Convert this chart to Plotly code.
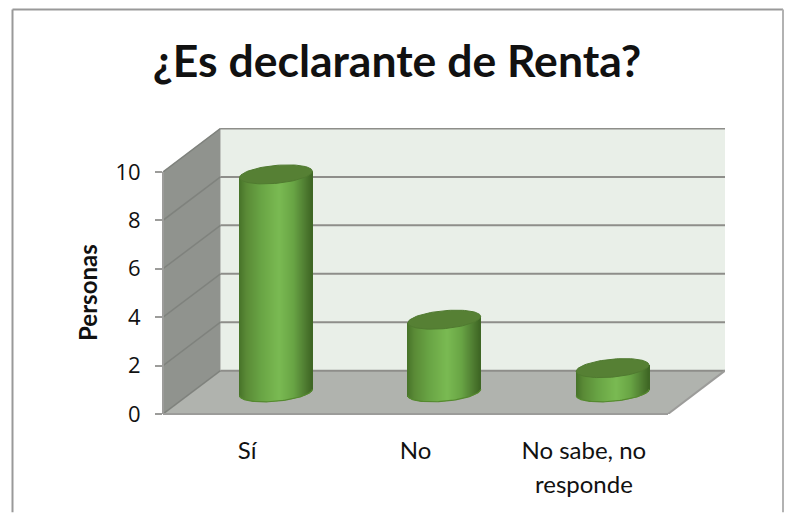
import numpy as np
import plotly.graph_objects as go

# data
categories = ["Sí", "No", "No sabe, no"]
categories_second_line = ["", "", "responde"]
values = [9, 3, 1]
y_ticks = [0, 2, 4, 6, 8, 10]

# pixel frame of the plot area, from the reference
W, H = 790, 513
PX_LEFT, PX_RIGHT, PX_TOP, PX_BOTTOM = 163, 725, 127.5, 414.5
PX_PER_CAT = 505 / 3
PX_PER_UNIT = 24.3

# depth of the fake 3d box, in axis units
DEPTH_X = 57.5 / PX_PER_CAT
DEPTH_Y = 43.5 / PX_PER_UNIT
X_MIN = -0.5
X_MAX = X_MIN + (PX_RIGHT - PX_LEFT) / PX_PER_CAT
Y_MAX = (PX_BOTTOM - PX_TOP) / PX_PER_UNIT
X_FRONT_END = 2.5

# cylinder shape
CYL_A = 36.4 / PX_PER_CAT
CYL_RY = 9 / PX_PER_UNIT
CYL_TILT = 3.2 / PX_PER_UNIT
STRIP = 1 / PX_PER_CAT

stops = [0.0, 0.1, 0.3, 0.55, 0.75, 0.9, 1.0]
stop_rgb = np.array([[70, 114, 40], [90, 138, 54], [104, 164, 68], [122, 186, 82],
                     [104, 164, 68], [80, 126, 50], [62, 102, 36]])


def strip_color(f):
    r, g, b = [np.interp(f, stops, stop_rgb[:, i]) for i in range(3)]
    return f"rgb({r:.0f},{g:.0f},{b:.0f})"


def wall(xs, ys, color):
    path = "M " + " L ".join(f"{x},{y}" for x, y in zip(xs, ys)) + " Z"
    return dict(type="path", path=path, xref="x", yref="y", fillcolor=color,
                line_width=0, layer="below")


def seg(x0, y0, x1, y1, color, width):
    return dict(type="line", x0=x0, y0=y0, x1=x1, y1=y1, xref="x", yref="y",
                line=dict(color=color, width=width), layer="below")


def paper_x(px):
    return (px - PX_LEFT) / (PX_RIGHT - PX_LEFT)


def paper_y(px):
    return (PX_BOTTOM - px) / (PX_BOTTOM - PX_TOP)


shapes = [
    wall([X_MIN + DEPTH_X, X_MAX, X_MAX, X_MIN + DEPTH_X], [DEPTH_Y, DEPTH_Y, Y_MAX, Y_MAX], "#e9efe8"),
    wall([X_MIN, X_MIN + DEPTH_X, X_MIN + DEPTH_X, X_MIN], [0, DEPTH_Y, Y_MAX, 10], "#90938e"),
    wall([X_MIN, X_FRONT_END, X_MAX, X_MIN + DEPTH_X], [0, 0, DEPTH_Y, DEPTH_Y], "#b0b3ae"),
]
for t in y_ticks:
    shapes.append(seg(X_MIN + DEPTH_X, t + DEPTH_Y, X_MAX, t + DEPTH_Y, "#8e8e8a", 2))
    shapes.append(seg(X_MIN, t, X_MIN + DEPTH_X, t + DEPTH_Y, "#7f827d", 1.5))
shapes.append(seg(X_FRONT_END, 0, X_MAX, DEPTH_Y, "#9c9c9a", 2))
# front edges and outer chart border sit on the plot edge, so paper refs (not clipped)
edge = dict(color="#9c9c9a", width=2)
shapes += [
    dict(type="line", xref="paper", yref="paper", x0=0, x1=paper_x(668), y0=0, y1=0, line=edge),
    dict(type="line", xref="paper", yref="paper", x0=0, x1=0, y0=0, y1=paper_y(171.5), line=edge),
    dict(type="line", xref="paper", yref="paper", x0=paper_x(12.5), x1=paper_x(12.5),
         y0=paper_y(513), y1=paper_y(8.5), line=dict(color="#999999", width=2)),
    dict(type="line", xref="paper", yref="paper", x0=paper_x(12.5), x1=paper_x(783),
         y0=paper_y(8.5), y1=paper_y(8.5), line=dict(color="#999999", width=2)),
    dict(type="line", xref="paper", yref="paper", x0=paper_x(783), x1=paper_x(783),
         y0=paper_y(513), y1=paper_y(8.5), line=dict(color="#b2b2b2", width=2)),
]

fig = go.Figure()

# cylinder bodies as one bar trace of thin strips
strip_x, strip_base, strip_h, strip_c = [], [], [], []
offsets = np.arange(-CYL_A + STRIP / 2, CYL_A, STRIP)
for i, v in enumerate(values):
    cx = i + DEPTH_X / 2
    y_mid = DEPTH_Y / 2
    for dx in offsets:
        u = dx / CYL_A
        bottom = y_mid + CYL_TILT * u - CYL_RY * np.sqrt(1 - u * u)
        top = y_mid + v + CYL_TILT * u
        strip_x.append(cx + dx)
        strip_base.append(bottom)
        strip_h.append(top - bottom)
        strip_c.append(strip_color((u + 1) / 2))

fig.add_trace(go.Bar(x=strip_x, y=strip_h, base=strip_base, width=STRIP,
                     marker=dict(color=strip_c, line_width=0), showlegend=False,
                     hoverinfo="skip"))

# top caps and the dark bottom outline
t = np.linspace(0, 2 * np.pi, 91)
for i, v in enumerate(values):
    cx = i + DEPTH_X / 2
    y_mid = DEPTH_Y / 2
    fig.add_trace(go.Scatter(x=cx + CYL_A * np.cos(t),
                             y=y_mid + v + CYL_TILT * np.cos(t) + CYL_RY * np.sin(t),
                             mode="lines", fill="toself", fillcolor="#568034",
                             line=dict(color="#507a30", width=1), showlegend=False,
                             hovertemplate=f"{categories[i]}: {v}<extra></extra>"))
    arc = np.linspace(np.pi, 2 * np.pi, 61)
    fig.add_trace(go.Scatter(x=cx + CYL_A * np.cos(arc),
                             y=y_mid + CYL_TILT * np.cos(arc) + CYL_RY * np.sin(arc),
                             mode="lines", line=dict(color="#55892f", width=1.2),
                             showlegend=False, hoverinfo="skip"))

fig.update_xaxes(range=[X_MIN, X_MAX], tickmode="array", tickvals=list(range(len(categories))),
                 ticktext=categories, showgrid=False, zeroline=False, showline=False,
                 ticks="", tickfont=dict(family="Lato", size=24, color="#111111"),
                 ticklabelstandoff=20)
fig.update_yaxes(range=[0, Y_MAX], tickmode="array", tickvals=y_ticks, showgrid=False,
                 zeroline=False, showline=False, ticks="outside", ticklen=7, tickwidth=1.5,
                 tickcolor="#9c9c9a", tickfont=dict(family="Open Sans", size=22, color="#111111"),
                 ticklabelstandoff=10)

annotations = [dict(x=i, y=paper_y(484), xref="x", yref="paper", text=s, showarrow=False,
                    yanchor="middle", font=dict(family="Lato", size=24, color="#111111"))
               for i, s in enumerate(categories_second_line) if s]
# axis title sits off the plot centre in the reference, so an annotation and not the axis title
annotations.append(dict(x=paper_x(88), y=paper_y(293), xref="paper", yref="paper",
                        xanchor="center", yanchor="middle",
                        text="<b>Personas</b>", textangle=-90, showarrow=False,
                        font=dict(family="Lato", size=24, color="#111111")))

fig.update_layout(width=W, height=H, autosize=False,
                  margin=dict(l=PX_LEFT, r=W - PX_RIGHT, t=PX_TOP, b=H - PX_BOTTOM, pad=0),
                  paper_bgcolor="white", plot_bgcolor="white", barmode="overlay",
                  shapes=shapes, annotations=annotations, showlegend=False,
                  title=dict(text="<b>¿Es declarante de Renta?</b>", xref="container", yref="container",
                             x=397 / W, xanchor="center", y=1 - 61 / H, yanchor="middle",
                             font=dict(family="Lato", size=44.5, color="#111111")))

# the page's default body margin would push the whole chart 8px off
fig.write_html("out.html", config=dict(displayModeBar=False),
               post_script="document.body.style.margin='0';")
